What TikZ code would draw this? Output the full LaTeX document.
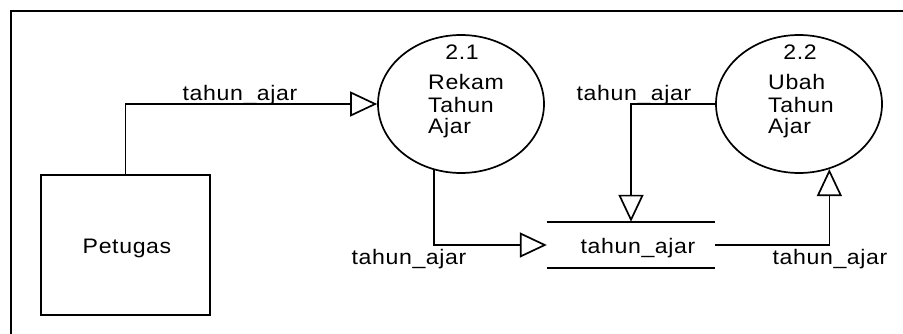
\documentclass[tikz,border=0pt]{standalone}
\usepackage{fontspec}
\setmainfont{Liberation Sans}[FakeStretch=1.1,LetterSpace=3]
\usetikzlibrary{shapes.geometric,arrows.meta}
\tikzset{
  ln/.style={line width=1.7pt, black},
  flow/.style={ln, -{Triangle[open, length=27pt, width=25pt, line width=1.7pt]}},
  txt/.style={font=\fontsize{21pt}{24pt}\selectfont, inner sep=0pt},
  proc/.style={ln, draw, ellipse, minimum width=166pt, minimum height=138pt, inner sep=0pt},
  ent/.style={ln, draw, rectangle, minimum width=169pt, minimum height=140pt, inner sep=0pt},
  storebox/.style={rectangle, minimum width=168pt, minimum height=46pt, inner sep=0pt},
}
\begin{document}
\begin{tikzpicture}[x=1pt, y=-1pt]
\useasboundingbox (0,0) rectangle (903,334);
% frame
\draw[ln, line width=2.2pt] (11,340) -- (11,11) -- (910,11);

% entity
\node[ent] (petugas) at (125.5,245) {};
\node[txt, anchor=base] (petugasT) at (127,253) {Petugas};

% processes
\node[proc] (p21) at (461,104) {};
\node[txt, anchor=base] (n21) at (462,60) {2.1};
\node[txt, anchor=base west] (a21) at (428,90) {Rekam};
\node[txt, anchor=base west] (b21) at (428,113) {Tahun};
\node[txt, anchor=base west] (c21) at (428,134) {Ajar};

\node[proc] (p22) at (799,104) {};
\node[txt, anchor=base] (n22) at (800,60) {2.2};
\node[txt, anchor=base west] (a22) at (768,90) {Ubah};
\node[txt, anchor=base west] (b22) at (768,113) {Tahun};
\node[txt, anchor=base west] (c22) at (768,134) {Ajar};

% data store
\node[storebox] (store) at (631,245) {};
\draw[ln] (store.north west) -- (store.north east);
\draw[ln] (store.south west) -- (store.south east);
\node[txt, anchor=base] (storeT) at (638,253) {tahun\_ajar};

% flows
\draw[flow] (petugas.north) |- (p21.west);
\node[txt, anchor=base] (l1) at (240,101) {tahun\_ajar};

\draw[flow] (p21.248.4) |- (store.west);
\node[txt, anchor=base] (l2) at (409,265) {tahun\_ajar};

\draw[flow] (p22.west) -| (store.north);
\node[txt, anchor=base] (l3) at (634,101) {tahun\_ajar};

\draw[flow] (store.east) -| (p22.295);
\node[txt, anchor=base] (l4) at (830,265) {tahun\_ajar};
\end{tikzpicture}
\end{document}
